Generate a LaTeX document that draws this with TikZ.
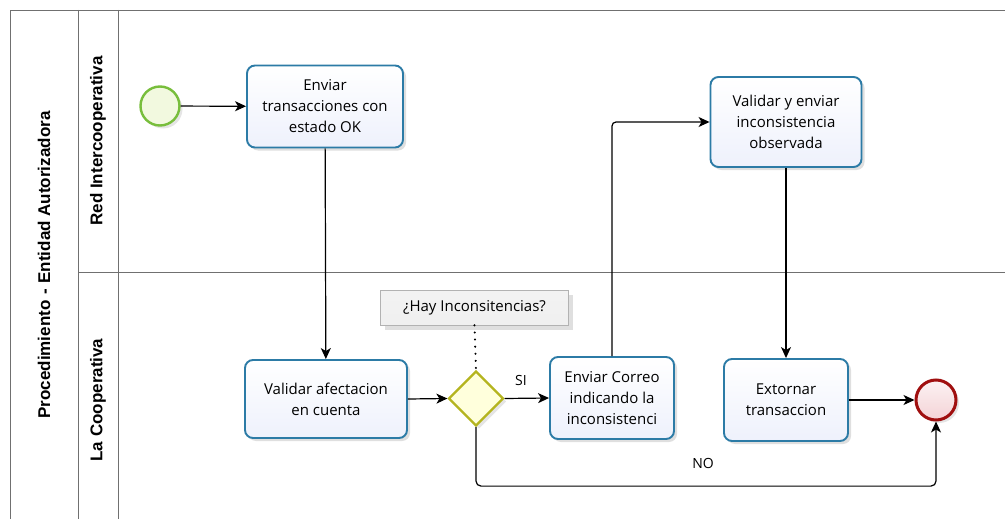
\documentclass[tikz,border=0pt]{standalone}
\usepackage{fontspec}
\setmainfont{Open Sans}
\newfontfamily\hdrfont{Liberation Sans}
\usetikzlibrary{arrows.meta,shadows,shapes.geometric}
\definecolor{taskborder}{HTML}{2C7BA6}
\definecolor{taskfill}{HTML}{EEF1FC}
\definecolor{gwborder}{HTML}{B4B41E}
\definecolor{gwfill}{HTML}{FFFFDC}
\definecolor{startborder}{HTML}{78BE3C}
\definecolor{startfill}{HTML}{F2F9DF}
\definecolor{endborder}{HTML}{A00F0F}
\definecolor{endfill}{HTML}{F4D3D6}
\definecolor{laneline}{HTML}{707070}
\tikzset{
  task/.style={rectangle, rounded corners=8pt, draw=taskborder, line width=1.9pt,
    top color=white, bottom color=taskfill, align=center,
    font=\fontsize{15}{21}\selectfont,
    drop shadow={shadow xshift=3pt, shadow yshift=-3pt, opacity=0.25, fill=gray}},
  gateway/.style={diamond, draw=gwborder, line width=2.2pt, fill=gwfill,
    minimum width=55pt, minimum height=55pt, inner sep=0pt,
    drop shadow={shadow xshift=3pt, shadow yshift=-3pt, opacity=0.2, fill=gray}},
  startev/.style={circle, draw=startborder, line width=2.4pt, fill=startfill,
    minimum size=39pt, inner sep=0pt,
    drop shadow={shadow xshift=3pt, shadow yshift=-3pt, opacity=0.2, fill=gray}},
  endev/.style={circle, draw=endborder, line width=3pt, top color=white!70!endfill, bottom color=endfill,
    minimum size=40pt, inner sep=0pt,
    drop shadow={shadow xshift=3pt, shadow yshift=-3pt, opacity=0.2, fill=gray}},
  annot/.style={rectangle, draw=gray!60, line width=0.6pt, top color=white!90!gray, bottom color=gray!12,
    minimum width=188pt, minimum height=35pt, font=\fontsize{15}{18}\selectfont,
    drop shadow={shadow xshift=4pt, shadow yshift=-5pt, opacity=0.25, fill=gray}},
  flow/.style={draw=black, line width=1.2pt, -{Stealth[length=11pt,width=10pt,inset=3pt]}},
  lane/.style={draw=laneline, line width=0.9pt},
  hdr/.style={rotate=90, font=\hdrfont\bfseries\fontsize{17}{20}\selectfont},
  lbl/.style={font=\fontsize{14}{16}\selectfont}
}
\begin{document}
\begin{tikzpicture}[x=1pt,y=-1pt]
\useasboundingbox[fill=white] (0,0) rectangle (1005,519);
% pool and lanes
\draw[lane] (10,519) -- (10,10) -- (1005,10);
\draw[lane] (78,10) -- (78,519);
\draw[lane] (118,10) -- (118,519);
\draw[lane] (78,272) -- (1005,272);
\node[hdr] (pool) at (44,265) {Procedimiento\,\,-\,\,Entidad Autorizadora};
\node[hdr] (lane1) at (98,141) {Red Intercooperativa};
\node[hdr] (lane2) at (98,400) {La Cooperativa};
% elements
\node[startev] (start) at (160,106) {};
\node[task, minimum width=156pt, minimum height=82pt] (t1) at (325,106.5) {Enviar\\transacciones con\\estado OK};
\node[task, minimum width=162pt, minimum height=78pt] (t2) at (326,399) {Validar afectacion\\en cuenta};
\node[gateway] (gw) at (476,398.5) {};
\node[annot] (ann) at (474.5,307.5) {¿Hay Inconsitencias?};
\node[task, minimum width=124pt, minimum height=82pt] (t3) at (612,398) {Enviar Correo\\indicando la\\inconsistenci};
\node[task, minimum width=151pt, minimum height=90pt] (t4) at (786,122) {Validar y enviar\\inconsistencia\\observada};
\node[task, minimum width=124pt, minimum height=82pt] (t5) at (786,400) {Extornar\\transaccion};
\node[endev] (end) at (936,400) {};
% flows
\draw[flow] (start) -- (t1);
\draw[flow] (t1) -- (t2);
\draw[flow] (t2.east) -- (gw.west);
\draw[flow] (gw.east) -- (t3.west);
\node[lbl] (si) at (521,380) {SI};
\draw[flow, rounded corners=4pt] (t3.north) |- (t4.west);
\draw[flow] (t4) -- (t5);
\draw[flow] (t5.east) -- (end.west);
\draw[flow, rounded corners=5pt] (gw.south) -- ++(0,59) -| (end.south);
\node[lbl] (no) at (703,463) {NO};
\draw[line width=2.2pt, dash pattern=on 0.1pt off 7pt, line cap=round] (ann.south) -- (gw.north);
\end{tikzpicture}
\end{document}
